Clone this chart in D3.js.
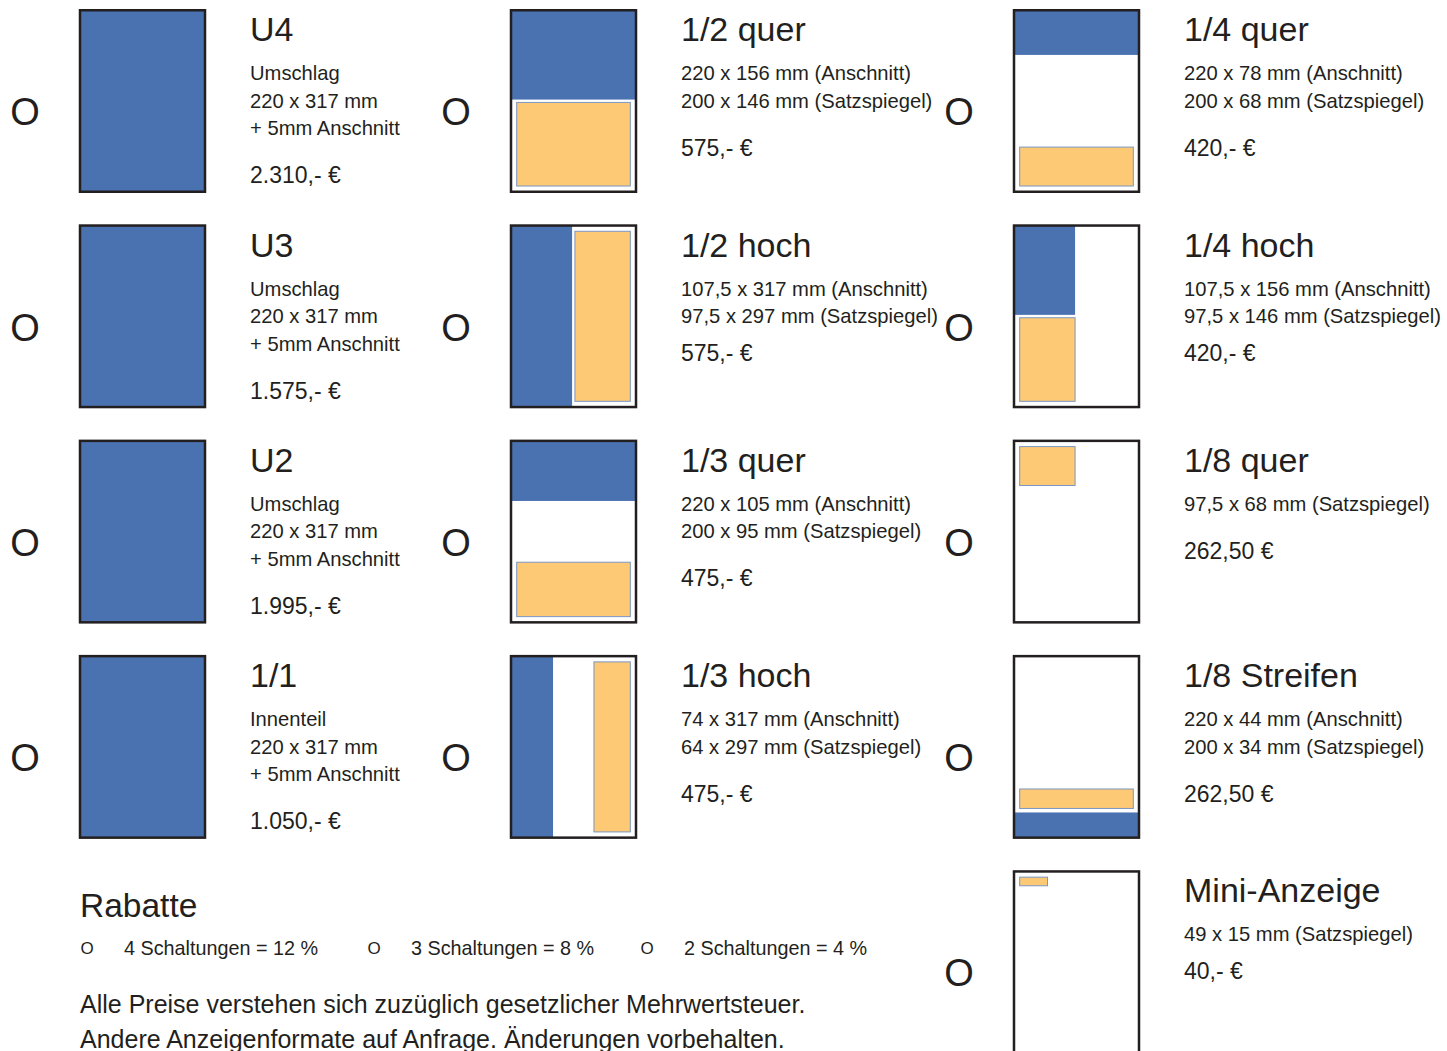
<!DOCTYPE html>
<html>
<head>
<meta charset="utf-8">
<script src="https://cdn.jsdelivr.net/npm/d3@7"></script>
<style>
	body { margin: 0; background: #fff; }
	text { font-family: "Liberation Sans", Arial, sans-serif; fill: #231f20; }
</style>
</head>
<body>
<div id="canvas"></div>
<script>
// ad formats, listed column by column (4 + 4 + 5)
const formatNames = ["U4", "U3", "U2", "1/1",
	"1/2 quer", "1/2 hoch", "1/3 quer", "1/3 hoch",
	"1/4 quer", "1/4 hoch", "1/8 quer", "1/8 Streifen", "Mini-Anzeige"];

const formatLines = [
	["Umschlag", "220 x 317 mm", "+ 5mm Anschnitt"],
	["Umschlag", "220 x 317 mm", "+ 5mm Anschnitt"],
	["Umschlag", "220 x 317 mm", "+ 5mm Anschnitt"],
	["Innenteil", "220 x 317 mm", "+ 5mm Anschnitt"],
	["220 x 156 mm (Anschnitt)", "200 x 146 mm (Satzspiegel)"],
	["107,5 x 317 mm (Anschnitt)", "97,5 x 297 mm (Satzspiegel)"],
	["220 x 105 mm (Anschnitt)", "200 x 95 mm (Satzspiegel)"],
	["74 x 317 mm (Anschnitt)", "64 x 297 mm (Satzspiegel)"],
	["220 x 78 mm (Anschnitt)", "200 x 68 mm (Satzspiegel)"],
	["107,5 x 156 mm (Anschnitt)", "97,5 x 146 mm (Satzspiegel)"],
	["97,5 x 68 mm (Satzspiegel)"],
	["220 x 44 mm (Anschnitt)", "200 x 34 mm (Satzspiegel)"],
	["49 x 15 mm (Satzspiegel)"]
];

const formatPrices = ["2.310,- €", "1.575,- €", "1.995,- €", "1.050,- €",
	"575,- €", "575,- €", "475,- €", "475,- €",
	"420,- €", "420,- €", "262,50 €", "262,50 €", "40,- €"];

// ad areas on the 220 x 317 mm page, [x, y, w, h] in mm
const bleedAreas = [
	[0, 0, 220, 317], [0, 0, 220, 317], [0, 0, 220, 317], [0, 0, 220, 317],
	[0, 0, 220, 156], [0, 0, 107.5, 317], [0, 0, 220, 105], [0, 0, 74, 317],
	[0, 0, 220, 78], [0, 0, 107.5, 156], null, [0, 273, 220, 44], null
];

const typeAreas = [
	null, null, null, null,
	[10, 161, 200, 146], [112.5, 10, 97.5, 297], [10, 212, 200, 95], [146, 10, 64, 297],
	[10, 239, 200, 68], [10, 161, 97.5, 146], [10, 10, 97.5, 68], [10, 232, 200, 34], [10, 10, 49, 15]
];

// formats whose price sits closer to the size lines
const tightPrice = ["1/2 hoch", "1/4 hoch", "Mini-Anzeige"];

const discountCounts = [4, 3, 2];
const discountPercents = [12, 8, 4];

const footnotes = ["Alle Preise verstehen sich zuzüglich gesetzlicher Mehrwertsteuer.",
	"Andere Anzeigenformate auf Anfrage. Änderungen vorbehalten."];

const BLUE = "#4b72b0", ORANGE = "#fdc975", INK = "#231f20";
const PAGE_W = 125, PAGE_H = 181.5;

const svg = d3.select("#canvas").append("svg")
	.attr("width", 1447)
	.attr("height", 1051)
	.style("display", "block");

svg.append("rect").attr("width", 1447).attr("height", 1051).attr("fill", "#fff");

const colX = d3.scaleOrdinal().domain([0, 1, 2]).range([80, 511, 1014]);
const rowY = d3.scaleLinear().domain([0, 1]).range([10.25, 225.55]);

const slots = formatNames.map((d, i) => {
	const col = i < 4 ? 0 : (i < 8 ? 1 : 2);
	const row = col === 2 ? i - 8 : i % 4;
	return { name: d, col: col, row: row, lines: formatLines[i], price: formatPrices[i], bleed: bleedAreas[i], type: typeAreas[i] };
});

const mmX = d3.scaleLinear().domain([0, 220]).range([0, PAGE_W]);
const mmY = d3.scaleLinear().domain([0, 317]).range([0, PAGE_H]);

const blocks = svg.selectAll("g.format")
	.data(slots).enter().append("g")
		.attr("class", "format")
		.attr("transform", d => "translate(" + colX(d.col) + "," + rowY(d.row) + ")");

// checkbox ring
blocks.append("text")
	.attr("x", -55)
	.attr("y", 115)
	.attr("text-anchor", "middle")
	.style("font-size", "38px")
	.text("O");

// page
blocks.append("rect")
	.attr("width", PAGE_W)
	.attr("height", PAGE_H)
	.attr("fill", "#fff");

blocks.filter(d => d.bleed).append("rect")
	.attr("x", d => mmX(d.bleed[0]))
	.attr("y", d => mmY(d.bleed[1]))
	.attr("width", d => mmX(d.bleed[2]))
	.attr("height", d => mmY(d.bleed[3]))
	.attr("fill", BLUE);

blocks.filter(d => d.type).append("rect")
	.attr("x", d => mmX(d.type[0]))
	.attr("y", d => mmY(d.type[1]))
	.attr("width", d => mmX(d.type[2]))
	.attr("height", d => mmY(d.type[3]))
	.attr("fill", ORANGE)
	.attr("stroke", "#7a96c4")
	.attr("stroke-width", 1);

blocks.append("rect")
	.attr("width", PAGE_W)
	.attr("height", PAGE_H)
	.attr("fill", "none")
	.attr("stroke", INK)
	.attr("stroke-width", 2.5);

// labels
blocks.append("text")
	.attr("x", 170)
	.attr("y", 31)
	.style("font-size", "34px")
	.text(d => d.name);

blocks.each(function(d) {
	const g = d3.select(this);
	d.lines.forEach((line, j) => {
		g.append("text")
			.attr("x", 170)
			.attr("y", 70 + j * 27.5)
			.style("font-size", "20.2px")
			.text(line);
	});
	const lastY = 70 + (d.lines.length - 1) * 27.5;
	g.append("text")
		.attr("x", 170)
		.attr("y", lastY + (tightPrice.includes(d.name) ? 38 : 48))
		.style("font-size", "23px")
		.text(d.price);
});

// discounts
svg.append("text")
	.attr("x", 80)
	.attr("y", 917)
	.style("font-size", "33.5px")
	.text("Rabatte");

const discX = d3.scaleOrdinal().domain([0, 1, 2]).range([80, 367, 640]);

const disc = svg.selectAll("g.disc")
	.data(discountCounts).enter().append("g")
		.attr("class", "disc")
		.attr("transform", (d, i) => "translate(" + discX(i) + ",955)");

disc.append("text")
	.attr("x", 7)
	.attr("y", -1)
	.attr("text-anchor", "middle")
	.style("font-size", "17px")
	.text("O");

disc.append("text")
	.attr("x", 44)
	.style("font-size", "19.8px")
	.text((d, i) => d + " Schaltungen = " + discountPercents[i] + " %");

svg.selectAll("text.note")
	.data(footnotes).enter().append("text")
		.attr("class", "note")
		.attr("x", 80)
		.attr("y", (d, i) => 1013 + i * 35)
		.style("font-size", "25px")
		.text(d => d);
</script>
</body>
</html>
